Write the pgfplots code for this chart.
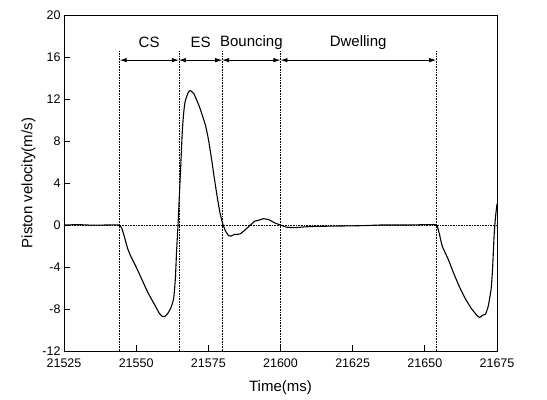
\documentclass[border=0pt]{standalone}
\usepackage{pgfplots}
\pgfplotsset{compat=1.18}
\usepackage{fontspec}
\setmainfont{Liberation Sans}
\usetikzlibrary{arrows.meta}

\pgfplotstableread{
t v
21525 0
21530 0.03
21535 -0.02
21540 0
21544 0
21545 -0.3
21546 -1.2
21547 -2.2
21548 -2.9
21550 -4.0
21552 -5.2
21554 -6.4
21556 -7.4
21557 -7.9
21558 -8.4
21559 -8.7
21560 -8.7
21561 -8.4
21562 -7.9
21563 -7.0
21563.6 -5.0
21564 -2.5
21564.5 0
21565 3
21565.5 6
21566 9
21566.5 10.8
21567 11.8
21568 12.6
21568.7 12.8
21570 12.5
21572 11.2
21574 9.5
21575 8.2
21576 6.5
21577 4.6
21578 2.8
21579 1.2
21580 0.1
21581 -0.6
21582 -1.0
21583 -1.05
21584 -0.9
21586 -0.85
21588 -0.4
21590 0.1
21591 0.35
21593 0.5
21594 0.6
21596 0.5
21598 0.2
21600 0
21602 -0.2
21605 -0.25
21610 -0.15
21615 -0.12
21620 -0.1
21625 -0.08
21630 -0.05
21635 0
21640 0
21645 0
21650 0.03
21654 0
21655 -0.8
21656 -2.0
21658 -3.2
21660 -4.6
21662 -5.9
21664 -7.0
21666 -7.9
21668 -8.6
21669 -8.8
21670 -8.6
21671 -8.5
21672 -7.7
21673 -6.0
21673.5 -4
21674 -1
21674.5 0.8
21675 2
}\velocity

\begin{document}
\begin{tikzpicture}
\begin{axis}[
  scale only axis,
  width=433pt, height=336pt,
  xmin=21525, xmax=21675, ymin=-12, ymax=20,
  xtick={21525,21550,21575,21600,21625,21650,21675},
  xticklabels={21525,21550,21575,21600,21625,21650,21675},
  scaled x ticks=false,
  ytick={-12,-8,...,20},
  tick align=inside,
  xtick pos=left, ytick pos=left,
  major tick length=6pt,
  axis line style={line width=0.9pt},
  tick style={line width=0.9pt, black},
  /pgf/number format/assume math mode=true,
  tick label style={font=\fontsize{12.5}{14}\selectfont},
  xticklabel style={yshift=-4pt},
  label style={font=\fontsize{15}{17}\selectfont},
  xlabel={Time(ms)},
  ylabel={Piston velocity(m/s)},
  xlabel style={yshift=-6pt},
  clip=false,
]
\draw[densely dotted, line width=0.6pt] (axis cs:21525,0) -- (axis cs:21675,0);
\foreach \xv in {21544.3,21564.8,21579.8,21600,21653.9} {
  \edef\tmp{\noexpand\draw[densely dotted, line width=0.6pt] (axis cs:\xv,-12) -- (axis cs:\xv,16.6);}
  \tmp
}
\foreach \a/\b in {21544.3/21564.8,21564.8/21579.8,21579.8/21600,21600/21653.9} {
  \edef\tmp{\noexpand\draw[line width=0.8pt, {Latex[length=7pt,width=4.5pt]}-{Latex[length=7pt,width=4.5pt]}] (axis cs:\a,15.7) -- (axis cs:\b,15.7);}
  \tmp
}
\node[font=\fontsize{15}{17}\selectfont] at (axis cs:21554.5,17.4) {CS};
\node[font=\fontsize{15}{17}\selectfont] at (axis cs:21572.3,17.4) {ES};
\node[font=\fontsize{15}{17}\selectfont] at (axis cs:21589.9,17.4) {Bouncing};
\node[font=\fontsize{15}{17}\selectfont] at (axis cs:21626.9,17.4) {Dwelling};
\addplot[black, line width=1.1pt, smooth, tension=0.3] table[x=t, y=v] {\velocity};
\end{axis}
\path ([xshift=-64pt,yshift=-49pt]current axis.south west) rectangle ([xshift=50pt,yshift=15pt]current axis.north east);
\end{tikzpicture}
\end{document}
